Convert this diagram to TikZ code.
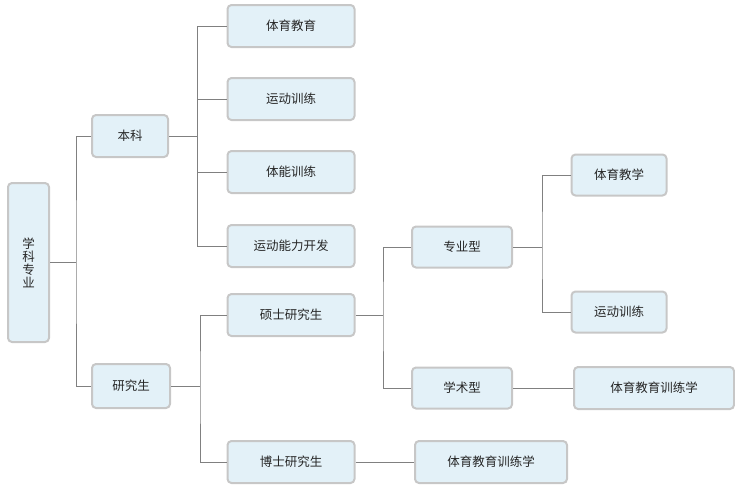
\documentclass[tikz,border=0pt]{standalone}
\usepackage{fontspec}
\setmainfont{Noto Sans CJK SC}
\begin{document}
\begin{tikzpicture}[x=1pt,y=-1pt,
  box/.style={draw=black!22,line width=2pt,fill={rgb,255:red,227;green,241;blue,248},rounded corners=4pt,inner sep=0pt,font=\fontsize{12.5}{14}\selectfont,text=black!85},
  ln/.style={draw=black!50,line width=1pt}]
\useasboundingbox (0,0) rectangle (735,491);
\node[box,minimum width=41,minimum height=159,align=center] (r) at (28.5,262.5) {学\\[-1pt]科\\[-1pt]专\\[-1pt]业};
\node[box,minimum width=76,minimum height=42] (bk) at (130,136) {本科};
\node[box,minimum width=78,minimum height=44] (yjs) at (131,386) {研究生};
\foreach \n/\y/\t in {a/26/体育教育,b/99/运动训练,c/172/体能训练,d/246/运动能力开发,ss/315/硕士研究生,bs/462/博士研究生}
  \node[box,minimum width=127,minimum height=42] (\n) at (291,\y) {\t};
\node[box,minimum width=100,minimum height=41] (zy) at (462,247) {专业型};
\node[box,minimum width=100,minimum height=41] (xs) at (462,388) {学术型};
\node[box,minimum width=95,minimum height=41] (jx) at (619,175) {体育教学};
\node[box,minimum width=95,minimum height=41] (xl) at (619,312) {运动训练};
\node[box,minimum width=160,minimum height=42] (x1) at (654,388) {体育教育训练学};
\node[box,minimum width=152,minimum height=42] (x2) at (491,462) {体育教育训练学};
% root
\coordinate (j0) at (76,0);
\draw[ln] (r.east) -- (r.east -| j0);
\draw[ln] (bk.west) -| (j0 |- r.east) |- (yjs.west);
% 本科
\coordinate (j1) at (197,0);
\draw[ln] (bk.east) -- (bk.east -| j1);
\draw[ln] (a.west) -| (j1 |- bk.east);
\draw[ln] (d.west) -| (j1 |- bk.east);
\draw[ln] (b.west) -- (b.west -| j1);
\draw[ln] (c.west) -- (c.west -| j1);
% 研究生
\coordinate (j2) at (200,0);
\draw[ln] (yjs.east) -- (yjs.east -| j2);
\draw[ln] (ss.west) -| (j2 |- yjs.east) |- (bs.west);
% 硕士
\coordinate (j3) at (383,0);
\draw[ln] (ss.east) -- (ss.east -| j3);
\draw[ln] (zy.west) -| (j3 |- ss.east) |- (xs.west);
% 专业型
\coordinate (j4) at (542,0);
\draw[ln] (zy.east) -- (zy.east -| j4);
\draw[ln] (jx.west) -| (j4 |- zy.east) |- (xl.west);
\draw[ln] (xs.east) -- (x1.west);
\draw[ln] (bs.east) -- (x2.west);
\end{tikzpicture}
\end{document}
